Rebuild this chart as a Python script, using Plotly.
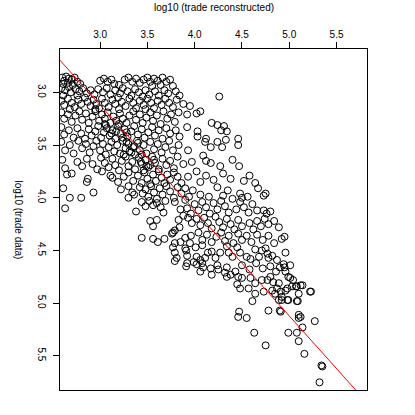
import plotly.graph_objects as go

# (reconstructed, data) pairs (top to bottom)
band_a = [(2.60,2.86),(2.62,2.89),(2.64,2.85),(2.67,2.87),(2.70,2.88),(2.73,2.86),(2.61,2.92),(2.66,2.91),
          (2.71,2.93),(2.76,2.90),(2.79,2.92),(3.00,2.89),(3.04,2.87),(3.08,2.90),(3.12,2.88),(3.15,2.92),
          (3.26,2.88),(3.30,2.86),(3.34,2.90),(3.38,2.87),(3.42,2.91),(3.46,2.88),(3.50,2.86),(3.53,2.90),
          (3.57,2.87),(3.61,2.89),(3.66,2.86),(3.70,2.90),(3.74,2.88),(3.77,2.94),(3.20,2.93),(3.55,2.94),
          (3.64,2.93)]
band_b = [(2.59,2.96),(2.63,2.98),(2.67,2.95),(2.69,3.00),(2.74,2.97),(2.78,2.99),(2.82,2.96),(2.86,3.01),
          (2.90,2.98),(2.94,3.02),(2.98,2.97),(3.03,3.00),(3.07,2.96),(3.11,3.02),(3.16,2.98),(3.21,3.01),
          (3.24,2.96),(3.29,2.99),(3.33,3.03),(3.37,2.97),(3.41,3.00),(3.48,2.98),(3.52,3.02),(3.58,2.99),
          (3.62,3.03),(3.68,2.98),(3.72,3.01),(3.80,2.99),(3.84,3.03),(2.61,3.03),(2.76,3.03),(3.45,3.04)]
band_c = [(2.59,3.08),(2.62,3.12),(2.66,3.06),(2.70,3.10),(2.73,3.14),(2.77,3.07),(2.80,3.11),(2.84,3.05),
          (2.87,3.09),(2.90,3.13),(2.93,3.07),(2.96,3.11),(2.99,3.15),(3.02,3.06),(3.05,3.10),(3.09,3.14),
          (3.13,3.07),(3.16,3.11),(3.19,3.05),(3.23,3.09),(3.27,3.13),(3.31,3.06),(3.35,3.10),(3.38,3.15),
          (3.42,3.08),(3.46,3.12),(3.50,3.06),(3.54,3.10),(3.57,3.15),(3.61,3.08),(3.65,3.12),(3.69,3.06),
          (3.73,3.10),(3.77,3.14),(3.81,3.07),(3.88,3.11),(3.95,3.13),(4.26,3.04),(2.68,3.16),
          (2.95,3.16),(3.20,3.16),(3.48,3.16)]
band_d = [(2.59,3.19),(2.62,3.25),(2.66,3.21),(2.70,3.28),(2.74,3.22),(2.78,3.18),(2.81,3.26),(2.85,3.20),
          (2.88,3.29),(2.92,3.23),(2.95,3.18),(2.99,3.27),(3.02,3.21),(3.05,3.25),(3.08,3.19),(3.11,3.29),
          (3.14,3.23),(3.17,3.27),(3.21,3.20),(3.24,3.25),(3.28,3.29),(3.31,3.22),(3.35,3.18),(3.38,3.26),
          (3.42,3.21),(3.45,3.29),(3.49,3.24),(3.53,3.19),(3.56,3.27),(3.60,3.22),(3.64,3.30),(3.67,3.18),
          (3.71,3.25),(3.75,3.21),(3.79,3.28),(3.83,3.19),(3.92,3.21),(4.02,3.20),(4.06,3.18),(4.18,3.29),
          (3.05,3.30),(3.20,3.30)]
band_e = [(2.59,3.33),(2.62,3.40),(2.67,3.36),(2.72,3.43),(2.76,3.34),(2.80,3.39),(2.84,3.44),(2.88,3.35),
          (2.91,3.41),(2.95,3.37),(2.98,3.32),(3.01,3.43),(3.04,3.38),(3.07,3.34),(3.10,3.41),(3.13,3.36),
          (3.16,3.44),(3.19,3.32),(3.22,3.39),(3.26,3.35),(3.29,3.42),(3.33,3.37),(3.36,3.32),(3.40,3.40),
          (3.44,3.35),(3.47,3.43),(3.51,3.38),(3.55,3.33),(3.58,3.41),(3.62,3.36),(3.66,3.44),(3.70,3.34),
          (3.74,3.39),(3.80,3.36),(3.84,3.42),(3.92,3.33),(4.03,3.37),(4.24,3.31),(4.31,3.32),(4.34,3.37),
          (4.28,3.36),(4.12,3.44),(3.12,3.39),(3.17,3.37),(3.24,3.43),(3.06,3.31),(3.28,3.38)]
band_f = [(2.59,3.47),(2.63,3.55),(2.68,3.50),(2.72,3.58),(2.77,3.46),(2.81,3.53),(2.85,3.49),(2.89,3.57),
          (2.93,3.51),(2.96,3.46),(3.00,3.55),(3.03,3.49),(3.06,3.59),(3.09,3.52),(3.12,3.47),(3.15,3.56),
          (3.18,3.50),(3.21,3.58),(3.24,3.46),(3.27,3.53),(3.30,3.49),(3.33,3.57),(3.36,3.51),(3.39,3.46),
          (3.42,3.55),(3.46,3.50),(3.49,3.58),(3.53,3.47),(3.57,3.54),(3.61,3.49),(3.65,3.57),(3.69,3.52),
          (3.73,3.46),(3.77,3.55),(3.83,3.50),(3.93,3.55),(4.03,3.42),(4.11,3.47),(4.17,3.52),(4.24,3.47),
          (4.29,3.52),(4.33,3.45),(4.46,3.44),(4.46,3.50),(3.37,3.59),(3.44,3.59),(3.28,3.47),(3.35,3.52),
          (3.31,3.56),(3.40,3.48),(3.25,3.59)]
band_g = [(2.60,3.64),(2.63,3.72),(2.76,3.66),(2.81,3.70),(2.86,3.63),(2.92,3.68),(2.97,3.73),(3.01,3.62),
          (3.05,3.67),(3.09,3.71),(3.13,3.63),(3.16,3.69),(3.20,3.74),(3.23,3.65),(3.27,3.61),(3.30,3.70),
          (3.34,3.66),(3.37,3.73),(3.41,3.62),(3.44,3.68),(3.48,3.64),(3.51,3.71),(3.55,3.61),(3.58,3.67),
          (3.62,3.73),(3.66,3.63),(3.70,3.69),(3.74,3.65),(3.78,3.72),(3.82,3.61),(3.88,3.68),(3.97,3.66),
          (4.09,3.60),(4.12,3.65),(4.17,3.67),(4.27,3.70),(4.40,3.64),(4.47,3.70),(3.46,3.74),(3.53,3.69),
          (3.49,3.70),(3.57,3.64),(3.43,3.66)]
band_h = [(2.65,3.78),(2.70,3.77),(2.86,3.85),(2.87,3.82),(3.02,3.75),(3.11,3.79),(3.13,3.81),(3.19,3.85),
          (3.25,3.80),(3.30,3.76),(3.35,3.84),(3.40,3.79),(3.44,3.86),(3.47,3.76),(3.50,3.82),(3.53,3.87),
          (3.56,3.78),(3.59,3.84),(3.62,3.75),(3.65,3.81),(3.68,3.86),(3.71,3.78),(3.74,3.83),(3.78,3.76),
          (3.82,3.80),(3.86,3.86),(3.93,3.80),(4.02,3.75),(4.06,3.85),(4.12,3.79),(4.20,3.83),(4.30,3.77),
          (4.38,3.82),(4.52,3.84),(4.58,3.79),(4.64,3.86)]
band_i = [(2.61,3.91),(2.68,4.00),(2.80,4.00),(2.93,3.95),(3.22,3.92),(3.30,3.89),(3.34,3.95),(3.36,3.97),
          (3.30,4.00),(3.42,3.90),(3.45,3.96),(3.48,3.92),(3.51,3.99),(3.54,3.89),(3.57,3.95),(3.60,4.01),
          (3.63,3.91),(3.66,3.97),(3.70,3.89),(3.74,3.94),(3.78,4.00),(3.82,3.90),(3.86,3.96),(3.90,3.91),
          (3.94,3.99),(3.98,3.93),(4.06,3.97),(4.15,3.99),(4.24,3.90),(4.30,3.98),(4.35,3.93),(4.48,3.96),
          (4.50,4.00),(4.56,3.99),(4.67,3.91),(4.73,3.98),(4.75,3.96),(4.40,4.01)]
band_j = [(2.63,4.10),(3.38,4.13),(3.67,4.14),(3.44,4.04),(3.48,4.08),(3.52,4.03),(3.56,4.07),(3.60,4.05),
          (3.64,4.09),(3.69,4.03),(3.79,4.04),(3.85,4.11),(3.90,4.02),(3.92,4.10),(3.96,4.15),(4.00,4.06),
          (4.04,4.12),(4.08,4.04),(4.12,4.09),(4.16,4.15),(4.20,4.05),(4.24,4.11),(4.28,4.03),(4.32,4.08),
          (4.36,4.14),(4.44,4.11),(4.48,4.04),(4.52,4.09),(4.57,4.14),(4.61,4.06),(4.66,4.12),
          (4.73,4.12),(4.76,4.15),(4.80,4.13)]
band_k = [(3.53,4.22),(3.60,4.21),(3.56,4.27),(3.83,4.21),(3.88,4.17),(3.93,4.19),(3.97,4.24),(3.84,4.28),
          (4.02,4.20),(4.06,4.26),(4.10,4.19),(4.14,4.24),(4.18,4.29),(4.22,4.18),(4.26,4.23),(4.30,4.28),
          (4.34,4.20),(4.38,4.25),(4.42,4.30),(4.46,4.21),(4.50,4.27),(4.58,4.24),(4.62,4.30),
          (4.66,4.22),(4.70,4.27),(4.74,4.20),(4.78,4.25),(4.84,4.22),(4.89,4.28)]
band_l = [(3.44,4.38),(3.56,4.39),(3.61,4.42),(3.68,4.39),(3.76,4.34),(3.79,4.31),(3.96,4.36),(3.77,4.33),
          (3.79,4.43),(3.85,4.42),(3.90,4.38),(3.95,4.43),(4.04,4.33),(4.08,4.40),(4.13,4.35),(4.18,4.42),
          (4.23,4.37),(4.28,4.33),(4.32,4.41),(4.36,4.36),(4.41,4.43),(4.46,4.34),(4.50,4.40),(4.55,4.36),
          (4.60,4.42),(4.66,4.35),(4.72,4.40),(4.78,4.36),(4.84,4.43),(4.92,4.39),(4.95,4.37)]
band_m = [(3.90,4.48),(4.14,4.52),(4.27,4.52),(4.45,4.47),(4.55,4.56),(4.64,4.49),(4.11,4.57),(3.77,4.47),
          (3.79,4.52),(3.81,4.57),(3.91,4.50),(3.92,4.55),(4.01,4.47),(4.08,4.45),(4.02,4.56),(4.06,4.59),
          (4.18,4.51),(4.34,4.46),(4.36,4.52),(4.48,4.52),(4.59,4.58),(4.71,4.50),(4.75,4.48),(4.77,4.53),
          (4.78,4.57),(4.82,4.55),(4.87,4.59),(4.96,4.52),(4.22,4.57),(4.40,4.56),(4.68,4.56)]
band_n = [(3.79,4.60),(3.91,4.65),(3.92,4.62),(3.99,4.61),(4.02,4.63),(4.08,4.62),(4.06,4.70),(4.09,4.66),
          (4.17,4.67),(4.24,4.64),(4.18,4.73),(4.25,4.68),(4.32,4.71),(4.34,4.66),(4.38,4.73),(4.43,4.70),
          (4.94,4.63),(4.95,4.66),(5.01,4.64),(4.96,4.70),(4.50,4.64),(4.58,4.68),(4.65,4.62),(4.72,4.67),
          (4.80,4.65),(4.86,4.70),(4.90,4.66)]
band_low = [(4.34,4.75),(4.46,4.75),(4.50,4.76),(4.59,4.76),(4.77,4.78),(4.80,4.75),(4.83,4.80),(4.89,4.81),
            (4.87,4.86),(4.82,4.88),(4.85,4.91),(4.91,4.89),(4.96,4.88),(4.92,4.94),(4.99,4.97),(4.89,4.97),
            (4.98,4.86),(5.03,4.84),(5.04,4.78),(5.01,4.76),(5.08,4.84),(5.14,4.83),(5.10,4.91),(5.22,4.89),
            (5.08,4.98),(4.57,4.86),(4.64,4.91),(4.61,4.98),(4.73,4.89),(4.78,5.07),(4.90,5.07),(4.47,5.08),
            (4.46,5.13),(4.55,5.14),(5.10,5.11),(5.12,5.13),(5.14,5.23),(5.10,5.14),(5.27,5.17),(4.63,5.28),
            (4.99,5.28),(5.08,5.28),(4.75,5.40),(5.10,5.36),(5.16,5.48),(5.34,5.59),(5.35,5.60),(5.32,5.75),
            (4.45,4.82),(4.48,4.86),(4.64,4.81),(4.71,4.78),(4.99,4.75),(5.07,4.84),(5.12,4.83),(5.23,4.89),
            (4.92,4.97),(4.98,4.97),(5.09,4.98),(4.91,5.08)]

points = (band_a + band_b + band_c + band_d + band_e + band_f + band_g + band_h +
          band_i + band_j + band_k + band_l + band_m + band_n + band_low)
trade_rec = [p[0] for p in points]
trade_dat = [p[1] for p in points]

# fitted line
fit_slope = 1.0
fit_intercept = 0.12
line_x = [2.4, 6.0]
line_y = [fit_intercept + fit_slope * v for v in line_x]

tick_vals = [3.0, 3.5, 4.0, 4.5, 5.0, 5.5]
tick_text = ["3.0", "3.5", "4.0", "4.5", "5.0", "5.5"]

fig = go.Figure()
fig.add_trace(go.Scatter(
    x=trade_rec, y=trade_dat, mode="markers",
    marker=dict(symbol="circle-open", size=7, color="black", line=dict(width=1)),
    showlegend=False, hoverinfo="skip"))
fig.add_trace(go.Scatter(
    x=line_x, y=line_y, mode="lines",
    line=dict(color="red", width=1), showlegend=False, hoverinfo="skip"))

axis_common = dict(
    tickvals=tick_vals, ticktext=tick_text, ticks="outside", ticklen=6,
    tickcolor="black", showline=True, linecolor="black", linewidth=1,
    mirror=True, showgrid=False, zeroline=False,
    tickfont=dict(size=10, color="black"))

fig.update_layout(
    width=415, height=415,
    margin=dict(l=60, r=48, t=49, b=25),
    paper_bgcolor="white", plot_bgcolor="white",
    font=dict(family="Liberation Sans, Arial, sans-serif", size=10, color="black"),
    xaxis=dict(range=[2.576, 5.822], side="top", **axis_common),
    yaxis=dict(range=[5.823, 2.589], tickangle=90, ticklabelstandoff=3, **axis_common),
    annotations=[
        dict(text="log10 (trade reconstructed)", xref="paper", yref="paper",
             x=0.5, y=1, yshift=42, xanchor="center", yanchor="middle",
             showarrow=False, font=dict(size=10, color="black")),
        dict(text="log10 (trade data)", xref="paper", yref="paper",
             x=0, y=0.5, xshift=-42, xanchor="center", yanchor="middle",
             textangle=90, showarrow=False, font=dict(size=10, color="black")),
    ],
)

# drop the default page margin so the 415px figure fills the window exactly
fig.write_html("out.html", config={"displayModeBar": False},
               post_script="document.body.style.margin = '0';")
